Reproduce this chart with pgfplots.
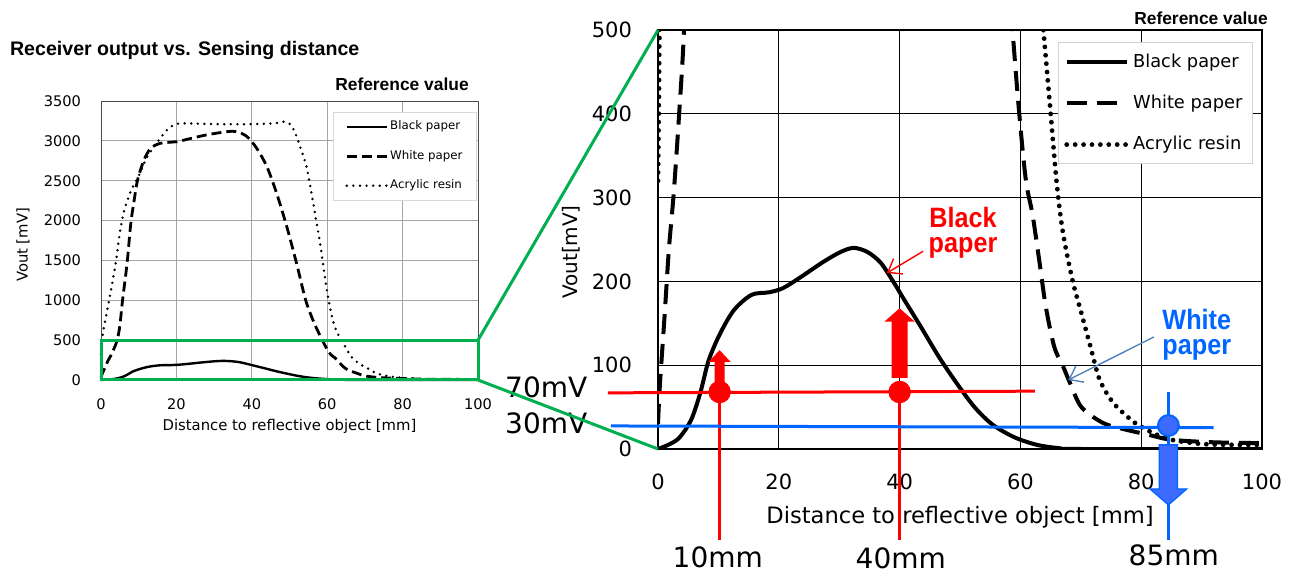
\documentclass[border=0pt]{standalone}
\usepackage{fontspec}
\setmainfont{DejaVu Sans}
\newfontfamily\arialfont{Liberation Sans}
\newfontfamily\narrowfont{Liberation Sans}[FakeStretch=0.9]
\usepackage{pgfplots}
\usepackage{pgfplotstable}
\pgfplotsset{compat=1.18}
\usetikzlibrary{arrows.meta}

\definecolor{grn}{HTML}{00B050}
\definecolor{myred}{HTML}{FF0000}
\definecolor{myblue}{HTML}{0066FF}
\definecolor{myblue2}{HTML}{3D6BFF}
\definecolor{steel}{HTML}{4F81BD}

\pgfplotstableread{
x y
0 0
2 6
3.6 14
5.5 35
7 67
8.4 106
10.3 138
12.6 166
15.5 184
18.4 187
20.7 192
23.6 205
27.3 223
30.2 235
32.4 240
34.7 235
36.9 222
39.1 198
40.6 180
43.5 146
46.5 110
49.4 79
52.4 50
55.4 29
59 14
62.7 5
66.4 1
70 0
100 0
}\blacktab

\pgfplotstableread{
x y
0 30
0.3 75
1.1 160
1.8 238
2.6 305
3.5 400
4.3 500
5 680
5.7 995
6.9 1458
7.9 1962
8.8 2256
9.7 2508
11.4 2760
13.2 2907
15.8 2970
20.2 2990
22.9 3020
28 3075
33.4 3115
36 3115
38.7 3055
41.3 2907
44 2676
46.6 2340
49.3 1920
51.9 1458
54.3 1000
56.5 720
58.7 500
59.8 401
60.9 321
62 280
63.1 226
64.2 170
65.6 122
67.1 98
68.2 79
70.1 50
73.7 31
77.5 23
81.2 17
85 11
92 8
100 7
}\whitetab

\pgfplotstableread{
x y
0 320
0.15 420
0.3 520
1 720
2 960
3 1220
4 1500
5 1850
6 2100
7 2250
8 2380
10 2560
12 2780
14 2920
16 3050
18 3160
20 3210
22 3220
30 3210
40 3210
46 3220
48.5 3240
50 3215
51 3150
52 3040
53 2900
54.5 2680
56 2300
57 2020
58 1750
59 1420
60 1100
61 850
62 670
63 560
63.8 500
65 401
66 318
67 260
68.6 202
70.1 162
71.6 122
73 85
74.5 64
76 50
79 31
82 19
85 11
90 6
95 5
100 5
}\acryltab

\begin{document}
\begin{tikzpicture}
\path[use as bounding box] (0,0) rectangle (649.5pt,286pt);

% ---------- left overview axis ----------
\begin{axis}[
  at={(50.5pt,96pt)}, anchor=south west, scale only axis,
  width=188.5pt, height=139.5pt,
  xmin=0, xmax=100, ymin=0, ymax=3500,
  xtick={0,20,...,100}, ytick={0,500,...,3500},
  grid=major, major grid style={gray!70, line width=0.5pt},
  axis line style={gray!60!black, line width=0.5pt},
  major tick length=0pt, clip=false,
  /pgf/number format/assume math mode=true,
  /pgf/number format/1000 sep={},
  ticklabel style={font=\fontsize{7.3}{8}\selectfont},
  yticklabel style={xshift=-6.5pt},
  xticklabel style={yshift=-5.8pt},
  xlabel={Distance to reflective object [mm]},
  ylabel={Vout [mV]},
  xlabel style={font=\fontsize{7.4}{8}\selectfont, at={(axis description cs:0.5,-0.165)}, anchor=center},
  ylabel style={font=\fontsize{7.4}{8}\selectfont, at={(axis description cs:-0.207,0.484)}, anchor=center},
  legend style={at={(0.615,0.961)}, anchor=north west, draw=gray!30, line width=0.5pt,
    font=\fontsize{5.9}{7}\selectfont, row sep=6.7pt, inner xsep=6pt, inner ysep=3.3pt,
    nodes={inner sep=1pt, text depth=0.15em}},
  legend cell align=left,
  legend image code/.code={\draw[#1] (0pt,0pt) -- (20pt,0pt);},
]
\addplot[black, line width=1.2pt, smooth] table[x=x,y=y] {\blacktab};
\addlegendentry{Black paper}
\addplot[black, line width=1.4pt, smooth, dash pattern=on 5pt off 2.5pt] table[x=x,y=y] {\whitetab};
\addlegendentry{White paper}
\addplot[black, line width=1.35pt, smooth, line cap=round, dash pattern=on 0pt off 3.3pt] table[x=x,y=y] {\acryltab};
\addlegendentry{Acrylic resin}
\draw[grn, line width=1.5pt] (axis cs:0,0) rectangle (axis cs:100,500);
\coordinate (LT) at (axis cs:100,500);
\coordinate (LB) at (axis cs:100,0);
\end{axis}

% ---------- right zoomed axis ----------
\begin{axis}[
  at={(329pt,61.5pt)}, anchor=south west, scale only axis,
  width=302pt, height=209.5pt,
  xmin=0, xmax=100, ymin=0, ymax=500,
  xtick={0,20,...,100}, ytick={0,100,...,500},
  grid=major, major grid style={black, line width=0.5pt},
  axis line style={black, line width=0.6pt},
  major tick length=0pt,
  /pgf/number format/assume math mode=true,
  ticklabel style={font=\fontsize{10.5}{12}\selectfont},
  yticklabel style={xshift=-9.5pt},
  xticklabel style={yshift=-9pt},
  xlabel={Distance to reflective object [mm]},
  ylabel={Vout[mV]},
  xlabel style={font=\fontsize{11.3}{13}\selectfont, at={(axis description cs:0.5,-0.162)}, anchor=center},
  ylabel style={font=\fontsize{10}{12}\selectfont, at={(axis description cs:-0.144,0.470)}, anchor=center},
  legend style={at={(0.662,0.971)}, anchor=north west, draw=gray!35, line width=0.5pt,
    font=\fontsize{8.9}{10}\selectfont, row sep=8.4pt, inner xsep=3pt, inner ysep=3.5pt},
  legend cell align=left,
  legend image code/.code={\draw[#1] (0pt,0pt) -- (30pt,0pt);},
]
\addplot[black, line width=2pt, smooth] table[x=x,y=y] {\blacktab};
\addlegendentry{Black paper}
\addplot[black, line width=2pt, smooth, dash pattern=on 10pt off 5pt] table[x=x,y=y] {\whitetab};
\addlegendentry{White paper}
\addplot[black, line width=2.4pt, smooth, line cap=round, dash pattern=on 0pt off 4.2pt] table[x=x,y=y] {\acryltab};
\addlegendentry{Acrylic resin}
\end{axis}

% ---------- annotation overlay on the right axis ----------
\begin{axis}[
  at={(329pt,61.5pt)}, anchor=south west, scale only axis,
  width=302pt, height=209.5pt,
  xmin=0, xmax=100, ymin=0, ymax=500,
  hide axis, clip=false,
]
\coordinate (RT) at (axis cs:0,500);
\coordinate (RB) at (axis cs:0,0);
% red level line and verticals
\addplot[myred, line width=1.5pt, no marks] coordinates {(-8.3,67) (62.4,69)};
\addplot[myred, line width=1.5pt, no marks] coordinates {(10.2,68) (10.2,-108.6)};
\addplot[myred, line width=1.5pt, no marks] coordinates {(40,68) (40,-108.6)};
% red arrows
\addplot[fill=myred, draw=none] coordinates {(9.37,80) (11.03,80) (11.03,104) (12.02,104) (10.2,118) (8.38,104) (9.37,104)} -- cycle;
\addplot[fill=myred, draw=none] coordinates {(38.68,85) (41.32,85) (41.32,152) (42.5,152) (40,168) (37.5,152) (38.68,152)} -- cycle;
\addplot[only marks, mark=*, mark size=5.4pt, color=myred] coordinates {(10.2,68) (40,68)};
% blue level line and vertical
\addplot[myblue, line width=1.5pt, no marks] coordinates {(-7.8,27.5) (92,25.5)};
\addplot[myblue, line width=1.5pt, no marks] coordinates {(84.5,68) (84.5,-108.6)};
\addplot[fill=myblue2, draw=myblue, line width=0.6pt] coordinates {(83,5) (86,5) (86,-47.7) (87.55,-47.7) (84.5,-66.8) (81.45,-47.7) (83,-47.7)} -- cycle;
\addplot[only marks, mark=*, mark size=5.2pt, mark options={fill=myblue2, draw=myblue, line width=1pt}] coordinates {(84.5,28)};
% labels
\node[font=\fontsize{14}{16}\selectfont] at (axis cs:-18.5,74) {70mV};
\node[font=\fontsize{14}{16}\selectfont] at (axis cs:-18.5,31) {30mV};
\node[font=\fontsize{14}{16}\selectfont] at (axis cs:9.9,-128.9) {10mm};
\node[font=\fontsize{14}{16}\selectfont] at (axis cs:40.2,-130) {40mm};
\node[font=\fontsize{14}{16}\selectfont] at (axis cs:85.4,-126.5) {85mm};
\node[font=\narrowfont\bfseries\fontsize{14}{12.5}\selectfont, text=myred, align=center] at (axis cs:50.5,257.8) {Black\\paper};
\node[font=\narrowfont\bfseries\fontsize{14}{12.5}\selectfont, text=myblue, align=center] at (axis cs:89.2,136.9) {White\\paper};
\draw[myred, line width=0.7pt, -{Straight Barb[length=6pt,width=9pt]}] (axis cs:43.9,236) -- (axis cs:37.9,210);
\draw[steel, line width=0.7pt, -{Straight Barb[length=6pt,width=9pt]}] (axis cs:82.1,133.7) -- (axis cs:67.9,82.3);
\end{axis}

% green connectors
\draw[grn, line width=1.5pt] (LT) -- (RT);
\draw[grn, line width=1.5pt] (LB) -- (RB);

% titles
\node[anchor=west, font=\arialfont\bfseries\fontsize{9.8}{11}\selectfont] at (1.5pt,261pt) {Receiver output vs. Sensing distance};
\node[font=\arialfont\bfseries\fontsize{8.7}{10}\selectfont] at (201pt,244pt) {Reference value};
\node[font=\arialfont\bfseries\fontsize{8.7}{10}\selectfont] at (600.5pt,277pt) {Reference value};
\end{tikzpicture}
\end{document}
